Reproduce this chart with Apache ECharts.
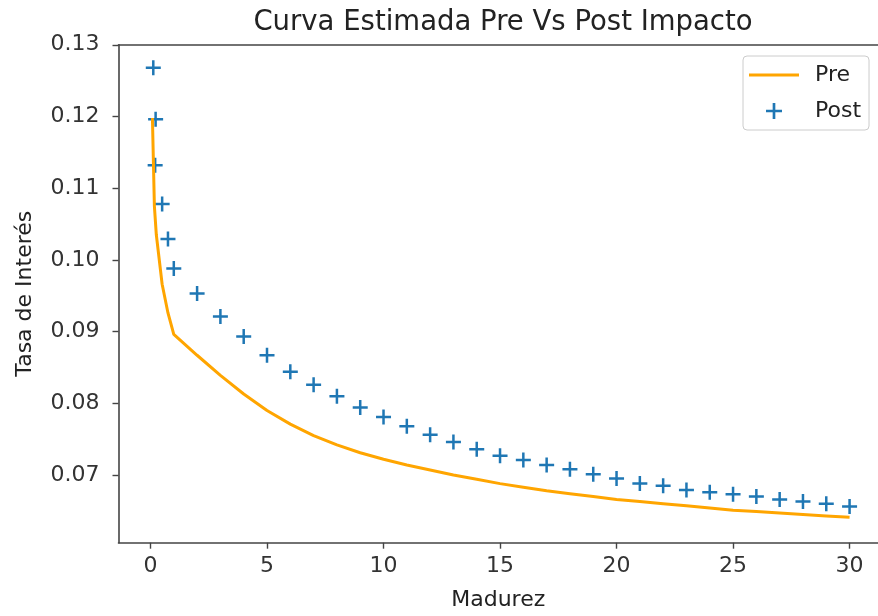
<!DOCTYPE html>
<html>
<head>
<meta charset="utf-8">
<script src="https://cdn.jsdelivr.net/npm/echarts@6/dist/echarts.min.js"></script>
<style>
  html, body { margin: 0; padding: 0; background: #fff; }
  #chart { width: 878px; height: 616px; }
</style>
</head>
<body>
<div id="chart"></div>
<script>
// Curva Pre (linea) y Post (cruces)
const preX = [0.083, 0.167, 0.25, 0.5, 0.75, 1, 2, 3, 4, 5, 6, 7, 8, 9, 10, 11, 12, 13, 14, 15,
  16, 17, 18, 19, 20, 21, 22, 23, 24, 25, 26, 27, 28, 29, 30];
const preY = [0.1198, 0.1075, 0.1035, 0.0966, 0.0926, 0.0896, 0.0867, 0.0839, 0.0813, 0.0790,
  0.0771, 0.0755, 0.0742, 0.0731, 0.0722, 0.0714, 0.0707, 0.0700, 0.0694, 0.0688,
  0.0683, 0.0678, 0.0674, 0.0670, 0.0666, 0.0663, 0.0660, 0.0657, 0.0654, 0.0651,
  0.0649, 0.0647, 0.0645, 0.0643, 0.0641];

const postX = [0.12, 0.22, 0.2, 0.5, 0.75, 1, 2, 3, 4, 5, 6, 7, 8, 9, 10, 11, 12, 13, 14, 15,
  16, 17, 18, 19, 20, 21, 22, 23, 24, 25, 26, 27, 28, 29, 30];
const postY = [0.1268, 0.1196, 0.1132, 0.1078, 0.1029, 0.0988, 0.0953, 0.0921, 0.0893, 0.0867,
  0.0844, 0.0826, 0.0810, 0.0794, 0.0781, 0.0768, 0.0756, 0.0746, 0.0736, 0.0727,
  0.0721, 0.0714, 0.0708, 0.0701, 0.0695, 0.0688, 0.0685, 0.0679, 0.0676, 0.0673,
  0.0670, 0.0666, 0.0663, 0.0660, 0.0656];

const xTicks = [0, 5, 10, 15, 20, 25, 30];
const yTicks = [0.07, 0.08, 0.09, 0.10, 0.11, 0.12, 0.13];

const font = 'DejaVu Sans';
const axisColor = '#444';
const plus = 'path://M5,0H7V5H12V7H7V12H5V7H0V5H5Z';

const chart = echarts.init(document.getElementById('chart'));

chart.setOption({
  animation: false,
  backgroundColor: '#fff',
  title: {
    text: 'Curva Estimada Pre Vs Post Impacto',
    left: 498, top: 4,
    textAlign: 'center',
    textStyle: { fontFamily: font, fontSize: 27.5, fontWeight: 'normal', color: '#222' }
  },
  legend: {
    orient: 'vertical',
    left: 743, top: 56,
    padding: [7, 8, 7, 6],
    itemWidth: 50, itemHeight: 16, itemGap: 12,
    backgroundColor: 'rgba(255,255,255,0.8)',
    borderColor: '#cccccc', borderWidth: 1, borderRadius: 4,
    textStyle: { fontFamily: font, fontSize: 22, color: '#222', lineHeight: 24, padding: [0, 0, 0, 11] },
    data: [
      { name: 'Pre', icon: 'path://M0,0H50V3H0Z' },
      { name: 'Post' }
    ]
  },
  grid: { left: 118.5, right: 0, top: 44.7, bottom: 73.3, outerBoundsMode: 'none' },
  xAxis: [{
    type: 'value',
    min: -1.373, max: 31.22,
    name: 'Madurez', nameLocation: 'middle', nameGap: 47,
    nameTextStyle: { fontFamily: font, fontSize: 22, color: '#222' },
    axisLine: { show: true, onZero: false, lineStyle: { color: axisColor, width: 1.6 } },
    axisTick: { show: true, length: 6, customValues: xTicks, lineStyle: { color: axisColor, width: 1.4 } },
    axisLabel: { customValues: xTicks, margin: 13, fontFamily: font, fontSize: 22, color: '#333' },
    splitLine: { show: false }
  }, {
    type: 'value', position: 'top',
    min: -1.373, max: 31.22,
    axisLine: { show: true, onZero: false, lineStyle: { color: axisColor, width: 1.6 } },
    axisTick: { show: false }, axisLabel: { show: false }, splitLine: { show: false }
  }],
  yAxis: {
    type: 'value',
    min: 0.06056, max: 0.13001,
    name: 'Tasa de Interés', nameLocation: 'middle', nameGap: 82, nameRotate: 90,
    nameTextStyle: { fontFamily: font, fontSize: 22, color: '#222' },
    axisLine: { show: true, onZero: false, lineStyle: { color: axisColor, width: 1.6 } },
    axisTick: { show: true, length: 6, customValues: yTicks, lineStyle: { color: axisColor, width: 1.4 } },
    axisLabel: {
      customValues: yTicks, margin: 19, fontFamily: font, fontSize: 22, color: '#333',
      formatter: v => v.toFixed(2)
    },
    splitLine: { show: false }
  },
  series: [{
    name: 'Pre',
    type: 'line',
    data: preX.map((x, i) => [x, preY[i]]),
    symbol: 'none',
    lineStyle: { color: '#FFA500', width: 3 },
    itemStyle: { color: '#FFA500' }
  }, {
    name: 'Post',
    type: 'scatter',
    data: postX.map((x, i) => [x, postY[i]]),
    symbol: plus,
    symbolSize: 15,
    itemStyle: { color: '#1f77b4', opacity: 1 }
  }]
});
</script>
</body>
</html>
